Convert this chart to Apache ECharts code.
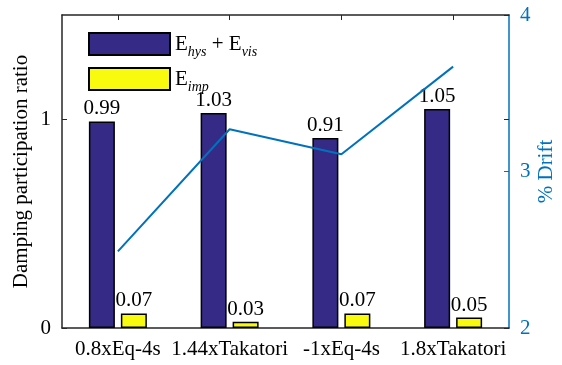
<!DOCTYPE html>
<html>
<head>
<meta charset="utf-8">
<script src="https://cdn.jsdelivr.net/npm/echarts@6/dist/echarts.min.js"></script>
<style>html,body{margin:0;padding:0;background:#fff;}#c{width:562px;height:365px;}</style>
</head>
<body>
<div id="c"></div>
<script>
var categories = ['0.8xEq-4s', '1.44xTakatori', '-1xEq-4s', '1.8xTakatori'];
var hysVis = [0.99, 1.03, 0.91, 1.05];
var imp = [0.07, 0.03, 0.07, 0.05];
var drift = [2.49, 3.27, 3.11, 3.67];

var FONT = 'Liberation Serif';
var FS = 21;
var BLUE = '#0072BD';
var chart = echarts.init(document.getElementById('c'), null, {renderer: 'canvas'});
var option = {
  animation: false,
  backgroundColor: '#fff',
  textStyle: {fontFamily: FONT},
  grid: {left: 62, right: 53, top: 15, bottom: 37, containLabel: false, outerBoundsMode: 'none'},
  legend: {
    orient: 'vertical', left: 83, top: 27, icon: 'rect',
    itemWidth: 81, itemHeight: 22, itemGap: 8,
    data: ['hysvis', 'imp'],
    formatter: function (n) {
      return n === 'hysvis' ? 'E{s|hys} + E{s|vis}' : 'E{s|imp}';
    },
    textStyle: {
      fontFamily: FONT, fontSize: FS, color: '#000', padding: [0, 0, 0, 0],
      rich: {s: {fontFamily: FONT, fontSize: 14, fontStyle: 'italic', color: '#000', verticalAlign: 'bottom', padding: [16, 0, 0, 0]}}
    }
  },
  xAxis: [{
    type: 'category', data: categories, position: 'bottom',
    axisLine: {onZero: false, lineStyle: {color: '#262626', width: 1.5}},
    axisTick: {inside: true, alignWithLabel: true, length: 5, lineStyle: {color: '#262626'}},
    axisLabel: {interval: 0, fontFamily: FONT, fontSize: FS, color: '#000', margin: 11}
  }, {
    type: 'category', data: categories, position: 'top',
    axisLine: {show: true, onZero: false, lineStyle: {color: '#262626', width: 1.5}},
    axisTick: {show: true, inside: true, alignWithLabel: true, interval: 0, length: 5, lineStyle: {color: '#262626'}},
    axisLabel: {show: false}
  }],
  yAxis: [{
    type: 'value', min: 0, max: 1.5, interval: 1, position: 'left',
    name: 'Damping participation ratio', nameLocation: 'middle', nameGap: 30, nameRotate: 90,
    nameMoveOverlap: false,
    nameTextStyle: {fontFamily: FONT, fontSize: FS, color: '#000'},
    axisLine: {show: true, onZero: false, lineStyle: {color: '#262626', width: 1.5}},
    axisTick: {show: true, inside: true, length: 5, lineStyle: {color: '#262626'}},
    axisLabel: {fontFamily: FONT, fontSize: FS, color: '#000', margin: 11, showMaxLabel: false},
    splitLine: {show: false}
  }, {
    type: 'value', min: 2, max: 4, interval: 1, position: 'right', offset: 0,
    name: '% Drift', nameLocation: 'middle', nameGap: 27, nameRotate: 90,
    nameMoveOverlap: false,
    nameTextStyle: {fontFamily: FONT, fontSize: FS, color: BLUE},
    axisLine: {show: true, onZero: false, lineStyle: {color: BLUE, width: 1.5}},
    axisTick: {show: true, inside: true, length: 5, lineStyle: {color: BLUE}},
    axisLabel: {fontFamily: FONT, fontSize: FS, color: BLUE, margin: 11},
    splitLine: {show: false}
  }, {
    type: 'value', min: 0, max: 1.5, interval: 1, position: 'right', offset: 0,
    axisLine: {show: false},
    axisTick: {show: true, inside: true, length: 5, lineStyle: {color: '#262626'}},
    axisLabel: {show: false},
    splitLine: {show: false}
  }],
  series: [{
    name: 'hysvis', type: 'bar', data: hysVis, yAxisIndex: 0,
    barWidth: 26, barGap: '23%',
    itemStyle: {color: '#352a86', borderColor: '#000', borderWidth: 1.5},
    label: {show: true, position: 'top', distance: 2, fontFamily: FONT, fontSize: FS, color: '#000'}
  }, {
    name: 'imp', type: 'bar', data: imp, yAxisIndex: 0,
    barWidth: 26, barGap: '23%',
    itemStyle: {color: '#f9fb0e', borderColor: '#000', borderWidth: 1.5},
    label: {show: true, position: 'top', distance: 2, fontFamily: FONT, fontSize: FS, color: '#000'}
  }, {
    name: 'drift', type: 'line', data: drift, yAxisIndex: 1,
    showSymbol: false, symbol: 'none',
    lineStyle: {color: BLUE, width: 2}, itemStyle: {color: BLUE}
  }]
};
chart.setOption(option);
</script>
</body>
</html>
